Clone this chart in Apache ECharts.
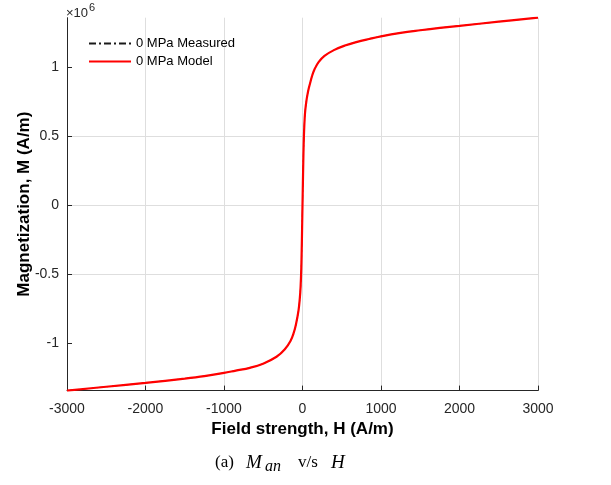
<!DOCTYPE html>
<html>
<head>
<meta charset="utf-8">
<script src="https://cdn.jsdelivr.net/npm/echarts@6/dist/echarts.min.js"></script>
<style>
  html, body { margin: 0; padding: 0; background: #fff; }
  #chart { width: 611px; height: 485px; }
</style>
</head>
<body>
<div id="chart"></div>
<script>
// Anhysteretic magnetization vs. field strength at 0 MPa.
// Field H in A/m, magnetization M in units of 1e6 A/m.
const fieldH = [
  -3000, -2500, -2000, -1500, -1250, -1000, -850, -671, -502, -331, -225, -153, -111, -85,
  -51, -34, -24, -16, -10, -5, 0, 5, 10, 15, 20, 28, 36, 50, 65, 80, 105, 125,
  155, 205, 280, 400, 540, 685, 850, 1000, 1250, 1500, 1750, 2000, 2500, 3000
];
const magM = [
  -1.345, -1.317, -1.289, -1.258, -1.240, -1.217, -1.200, -1.180, -1.150, -1.100, -1.045, -0.985, -0.925, -0.870,
  -0.765, -0.675, -0.590, -0.470, -0.320, -0.165, 0.000, 0.160, 0.310, 0.440, 0.530, 0.630, 0.690, 0.755, 0.805, 0.845, 0.900, 0.940,
  0.985, 1.035, 1.080, 1.122, 1.155, 1.180, 1.203, 1.222, 1.247, 1.266, 1.283, 1.298, 1.328, 1.357
];
const seriesNames = ['0 MPa Measured', '0 MPa Model'];
const yTicks = [-1, -0.5, 0, 0.5, 1];
const xRange = [-3000, 3000];
const yRange = [-1.345, 1.357];

const FONT = '"Liberation Sans", Arial, Helvetica, sans-serif';
const SERIF = '"Liberation Serif", "Times New Roman", serif';
const AXIS_COLOR = '#262626';
const GRID_COLOR = '#dedede';

const curve = fieldH.map((h, i) => [h, magM[i]]);

const chart = echarts.init(document.getElementById('chart'), null, { renderer: 'canvas' });

// caption pieces: "(a) M_an v/s H"
function captionPiece(text, x, y, size, italic) {
  return {
    type: 'text',
    x: x,
    y: y,
    style: {
      text: text,
      fontFamily: SERIF,
      fontSize: size,
      fontStyle: italic ? 'italic' : 'normal',
      fill: '#000',
      verticalAlign: 'middle',
      align: 'left'
    }
  };
}

chart.setOption({
  animation: false,
  backgroundColor: '#ffffff',
  grid: { left: 67, right: 73, top: 17.7, bottom: 94.4, containLabel: false },
  legend: {
    orient: 'vertical',
    left: 88,
    top: 37,
    padding: 0,
    itemWidth: 42,
    itemHeight: 14,
    itemGap: 5,
    itemStyle: { opacity: 0 },
    textStyle: { fontFamily: FONT, fontSize: 13, color: '#000' },
    data: seriesNames
  },
  xAxis: {
    type: 'value',
    min: xRange[0],
    max: xRange[1],
    interval: 1000,
    name: 'Field strength, H (A/m)',
    nameLocation: 'middle',
    nameGap: 30,
    nameMoveOverlap: false,
    nameTextStyle: { fontFamily: FONT, fontSize: 17, fontWeight: 'bold', color: '#000' },
    axisLine: { show: true, onZero: false, lineStyle: { color: AXIS_COLOR, width: 1 } },
    axisTick: { show: true, inside: true, length: 5, lineStyle: { color: AXIS_COLOR } },
    axisLabel: {
      fontFamily: FONT, fontSize: 14, color: AXIS_COLOR, margin: 12,
      formatter: (v) => String(v)
    },
    splitLine: { show: true, showMinLine: false, showMaxLine: true, lineStyle: { color: GRID_COLOR, width: 1 } }
  },
  yAxis: {
    type: 'value',
    min: yRange[0],
    max: yRange[1],
    name: 'Magnetization, M (A/m)',
    nameLocation: 'middle',
    nameGap: 34,
    nameMoveOverlap: false,
    nameTextStyle: { fontFamily: FONT, fontSize: 17, fontWeight: 'bold', color: '#000' },
    axisLine: { show: true, onZero: false, lineStyle: { color: AXIS_COLOR, width: 1 } },
    axisTick: { show: true, inside: true, length: 5, lineStyle: { color: AXIS_COLOR }, customValues: yTicks },
    axisLabel: { fontFamily: FONT, fontSize: 14, color: AXIS_COLOR, margin: 8, customValues: yTicks, formatter: (v) => String(v) },
    splitLine: { show: true, showMinLine: false, showMaxLine: false, lineStyle: { color: GRID_COLOR, width: 1 } }
  },
  series: [
    {
      // measured trace lies directly beneath the model trace
      name: seriesNames[0],
      type: 'line',
      data: curve,
      showSymbol: false,
      symbol: 'none',
      smooth: 0.4,
      lineStyle: { color: '#1a1a1a', width: 1, type: [7, 3, 2, 3] },
      itemStyle: { color: '#1a1a1a' },
      z: 2
    },
    {
      name: seriesNames[1],
      type: 'line',
      data: curve,
      showSymbol: false,
      symbol: 'none',
      smooth: 0.4,
      lineStyle: { color: '#ff0000', width: 2.2 },
      itemStyle: { color: '#ff0000' },
      z: 3
    }
  ],
  graphic: [
    {
      type: 'text',
      left: 66,
      top: 2,
      style: {
        text: '{t|×10}{e|6}',
        rich: {
          t: { fontFamily: FONT, fontSize: 13, fill: AXIS_COLOR, verticalAlign: 'bottom', lineHeight: 18 },
          e: { fontFamily: FONT, fontSize: 11, fill: AXIS_COLOR, verticalAlign: 'top', lineHeight: 18, padding: [0, 0, 7, 1] }
        }
      }
    },
    captionPiece('(a)', 215, 462.5, 17, false),
    captionPiece('M', 246, 462.5, 19, true),
    captionPiece('an', 265, 467, 16, true),
    captionPiece('v/s', 298, 462.5, 17, false),
    captionPiece('H', 331, 462.5, 19, true)
  ]
});
</script>
</body>
</html>
